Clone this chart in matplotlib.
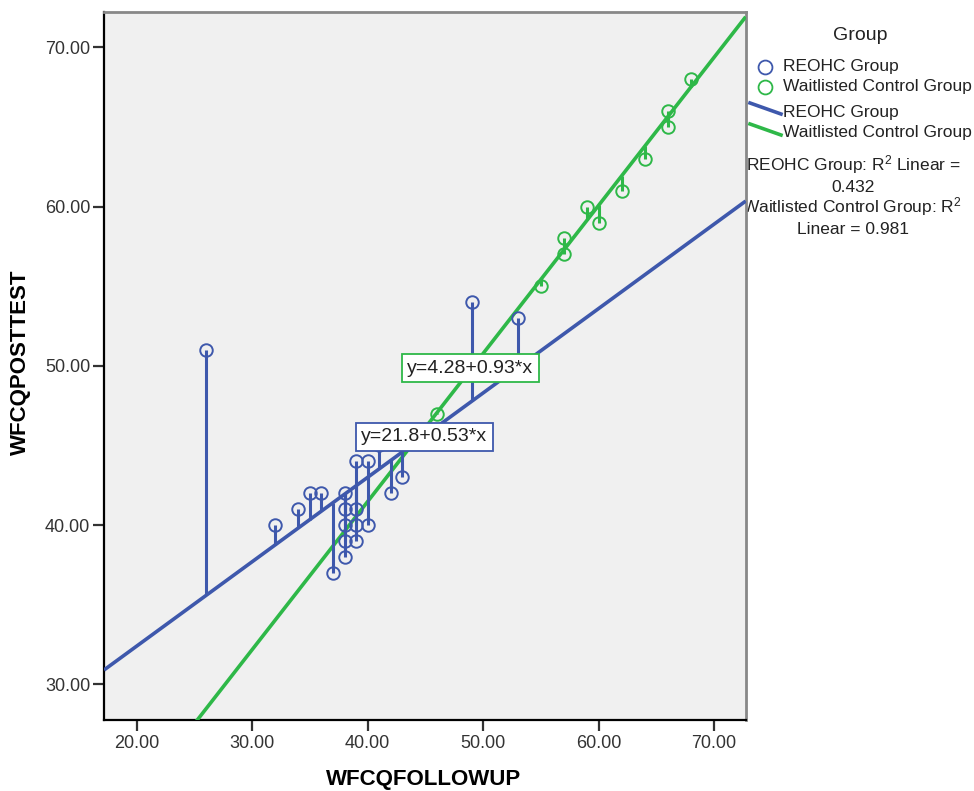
# Scatter of follow-up vs post-test WFCQ with linear fits per group

import matplotlib.pyplot as plt
from matplotlib.lines import Line2D
import numpy as np

plt.rcParams['font.family'] = ['Liberation Sans', 'DejaVu Sans']
plt.rcParams['mathtext.default'] = 'regular'

# REOHC group
reohc_x = [26, 32, 34, 35, 36, 37, 38, 38, 38, 38, 38, 39, 39, 39, 39, 40, 40, 41, 42, 43, 49, 53]
reohc_y = [51, 40, 41, 42, 42, 37, 42, 41, 40, 39, 38, 44, 41, 40, 39, 44, 40, 45, 42, 43, 54, 53]
# Waitlisted control group
wait_x = [46, 55, 57, 57, 59, 60, 62, 64, 66, 66, 68]
wait_y = [47, 55, 57, 58, 60, 59, 61, 63, 65, 66, 68]

# fit coefficients (intercept, slope) and R2 as printed on the chart
reohc_fit = (21.8, 0.53)
wait_fit = (4.28, 0.93)
reohc_r2 = 0.432
wait_r2 = 0.981

groups = ['REOHC Group', 'Waitlisted Control Group']
blue = '#3E58AC'
green = '#2EB848'

W, H = 974, 791
fig = plt.figure(figsize=(W / 100, H / 100), dpi=100)
ax = fig.add_axes([104 / W, 71 / H, 641.7 / W, 708 / H])
ax.set_facecolor('#F0F0F0')

xmin, xmax = 17.17, 72.73
ax.set_xlim(xmin, xmax)
ax.set_ylim(27.76, 72.22)

xx = np.array([xmin, xmax])
for (b0, b1), col, z in [(reohc_fit, blue, 3), (wait_fit, green, 4)]:
    ax.plot(xx, b0 + b1 * xx, color=col, lw=2.6, zorder=z, solid_capstyle='butt')

# residual drop lines + hollow markers
for xs, ys, (b0, b1), col in [(reohc_x, reohc_y, reohc_fit, blue),
                              (wait_x, wait_y, wait_fit, green)]:
    xs = np.array(xs, float)
    ys = np.array(ys, float)
    ax.vlines(xs, ys, b0 + b1 * xs, color=col, lw=2.2, zorder=5)
    ax.plot(xs, ys, 'o', mfc='none', mec=col, ms=9, mew=1.4, zorder=6)

# equation labels
ax.text(48.9, 49.84, 'y=%.2f+%.2f*x' % wait_fit, fontsize=14, ha='center', va='center',
        color='#222222', zorder=8,
        bbox=dict(boxstyle='square,pad=0.28', fc='white', ec=green, lw=1.3))
ax.text(44.9, 45.54, 'y=%.1f+%.2f*x' % reohc_fit, fontsize=14, ha='center', va='center',
        color='#222222', zorder=8,
        bbox=dict(boxstyle='square,pad=0.28', fc='white', ec=blue, lw=1.3))

ax.set_xticks(np.arange(20, 71, 10))
ax.set_yticks(np.arange(30, 71, 10))
ax.xaxis.set_major_formatter(plt.FormatStrFormatter('%.2f'))
ax.yaxis.set_major_formatter(plt.FormatStrFormatter('%.2f'))
ax.tick_params(axis='both', direction='out', length=8, width=1.6, color='#333333',
               labelsize=13, labelcolor='#333333')
ax.tick_params(axis='x', pad=3)
ax.tick_params(axis='y', pad=2)

for s in ['left', 'bottom']:
    ax.spines[s].set_color('black')
    ax.spines[s].set_linewidth(1.6)
for s in ['top', 'right']:
    ax.spines[s].set_color('#888888')
    ax.spines[s].set_linewidth(2)


def fp(px, py):
    return px / W, 1 - py / H


# axis titles placed directly
fig.text(*fp(424, 779), 'WFCQFOLLOWUP', fontsize=16, fontweight='bold', ha='center',
         va='center')
fig.text(*fp(20, 362), 'WFCQPOSTTEST', fontsize=16, fontweight='bold', ha='center',
         va='center', rotation=90)

# legend drawn by hand to mimic the SPSS layout
fig.text(*fp(860, 35), 'Group', fontsize=14, ha='center', va='center', color='#222222')
for i, (name, col) in enumerate(zip(groups, [blue, green])):
    y = 67 + 20 * i
    fig.add_artist(Line2D([fp(765, y)[0]], [fp(765, y)[1]], marker='o', mfc='none',
                          mec=col, ms=10, mew=1.3))
    fig.text(*fp(783, y), name, fontsize=12.5, ha='left', va='center', color='#222222')
for i, (name, col) in enumerate(zip(groups, [blue, green])):
    y0 = 103 + 21 * i
    p0 = fp(750, y0)
    p1 = fp(781, y0 + 11)
    fig.add_artist(Line2D([p0[0], p1[0]], [p0[1], p1[1]], color=col, lw=2.6))
    fig.text(*fp(783, y0 + 9), name, fontsize=12.5, ha='left', va='center', color='#222222')

fig.text(*fp(853, 165), '%s: R$^2$ Linear =' % groups[0], fontsize=12.5, ha='center',
         va='center', color='#222222')
fig.text(*fp(853, 187), '%.3f' % reohc_r2, fontsize=12.5, ha='center', va='center',
         color='#222222')
fig.text(*fp(852, 207), '%s: R$^2$' % groups[1], fontsize=12.5, ha='center', va='center',
         color='#222222', zorder=-1)
fig.text(*fp(853, 229), 'Linear = %.3f' % wait_r2, fontsize=12.5, ha='center', va='center',
         color='#222222')

fig.savefig('out.png', dpi=100, facecolor='white')
